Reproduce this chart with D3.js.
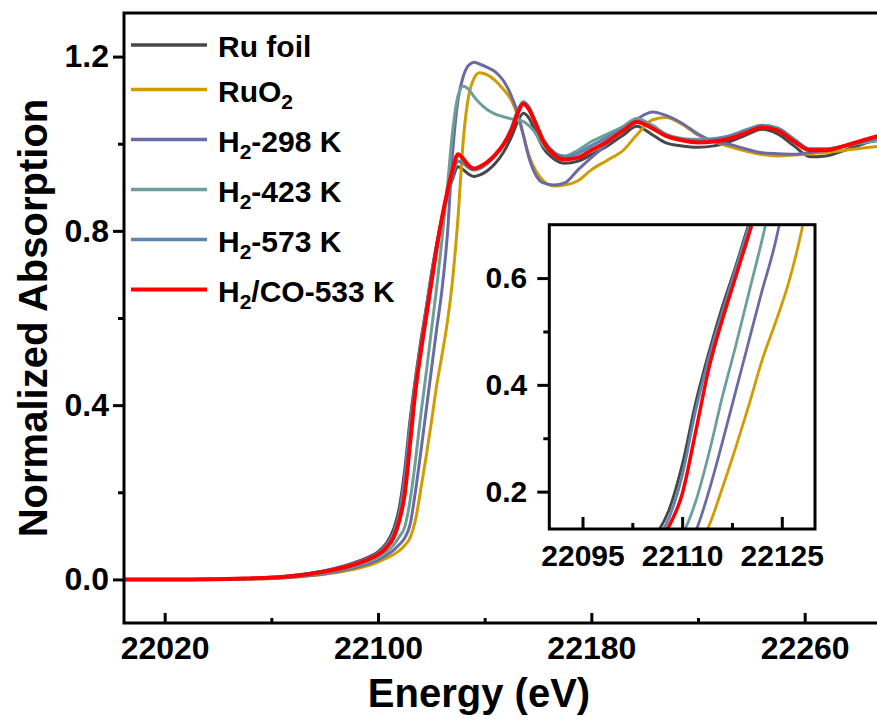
<!DOCTYPE html>
<html>
<head>
<meta charset="utf-8">
<script src="https://cdn.jsdelivr.net/npm/d3@7"></script>
<style>
  body { margin: 0; background: #fff; }
  text { font-family: "Liberation Sans", Arial, sans-serif; font-weight: bold; }
</style>
</head>
<body>
<div id="chart"></div>
<script>
// Energy grid (eV) and normalized absorption of each sample
var energy = [22005, 22030, 22050, 22065, 22080, 22090, 22096, 22100,
              22103, 22106, 22108, 22110, 22112, 22114, 22116, 22118,
              22120, 22122, 22124, 22126, 22128, 22130, 22132, 22134,
              22136, 22138, 22141, 22144, 22147, 22150, 22152.5, 22154.5, 22156.5,
              22159, 22162, 22166, 22170, 22175, 22180, 22186, 22192,
              22197, 22203, 22208, 22214, 22220, 22226, 22232, 22238,
              22244, 22250, 22256, 22262, 22268, 22275, 22282, 22290];

var ruFoil = [0, 0, 0.002, 0.007, 0.02, 0.036, 0.05, 0.063,
              0.082, 0.118, 0.165, 0.25, 0.365, 0.46, 0.545, 0.62,
              0.70, 0.77, 0.83, 0.88, 0.92, 0.947, 0.940, 0.930,
              0.925, 0.928, 0.938, 0.955, 0.980, 1.015, 1.052, 1.070, 1.060,
              1.028, 0.99, 0.965, 0.955, 0.96, 0.975, 0.995, 1.020,
              1.040, 1.020, 1.002, 0.995, 0.992, 0.995, 1.005, 1.020,
              1.033, 1.022, 0.995, 0.97, 0.972, 0.985, 1.0, 1.015];

var ruO2 = [0, 0, 0.001, 0.004, 0.012, 0.022, 0.031, 0.04,
            0.048, 0.058, 0.066, 0.078, 0.095, 0.135, 0.205, 0.28,
            0.36, 0.445, 0.515, 0.59, 0.69, 0.83, 1.01, 1.11,
            1.15, 1.163, 1.158, 1.145, 1.125, 1.10, 1.062, 1.02, 0.975,
            0.94, 0.915, 0.903, 0.905, 0.915, 0.94, 0.962, 0.985,
            1.02, 1.055, 1.06, 1.045, 1.02, 1.005, 0.993, 0.983,
            0.975, 0.972, 0.974, 0.977, 0.98, 0.985, 0.99, 0.996];

var h2_298 = [0, 0, 0.001, 0.004, 0.013, 0.025, 0.035, 0.045,
              0.055, 0.068, 0.08, 0.095, 0.125, 0.20, 0.29, 0.385,
              0.48, 0.575, 0.665, 0.79, 0.98, 1.10, 1.155, 1.18,
              1.187, 1.183, 1.175, 1.165, 1.145, 1.11, 1.068, 1.02, 0.97,
              0.93, 0.91, 0.905, 0.91, 0.94, 0.968, 1.0, 1.035,
              1.056, 1.073, 1.065, 1.047, 1.022, 1.005, 0.998, 0.988,
              0.979, 0.977, 0.976, 0.98, 0.986, 0.995, 1.003, 1.012];

var h2_423 = [0, 0, 0.001, 0.005, 0.015, 0.028, 0.04, 0.05,
              0.062, 0.08, 0.098, 0.12, 0.18, 0.27, 0.375, 0.47,
              0.57, 0.67, 0.78, 0.90, 1.03, 1.11, 1.132, 1.125,
              1.108, 1.094, 1.078, 1.068, 1.062, 1.057, 1.054, 1.051, 1.042,
              1.025, 0.995, 0.978, 0.972, 0.985, 1.005, 1.022, 1.04,
              1.058, 1.042, 1.022, 1.012, 1.01, 1.012, 1.018, 1.032,
              1.042, 1.035, 1.01, 0.988, 0.988, 0.995, 1.002, 1.008];

var h2_573 = [0, 0, 0.002, 0.006, 0.019, 0.034, 0.047, 0.06,
              0.077, 0.108, 0.15, 0.23, 0.35, 0.45, 0.535, 0.615,
              0.695, 0.765, 0.83, 0.885, 0.93, 0.96, 0.955, 0.945,
              0.94, 0.943, 0.955, 0.973, 0.998, 1.035, 1.077, 1.096, 1.085,
              1.05, 1.01, 0.98, 0.97, 0.978, 0.995, 1.015, 1.035,
              1.052, 1.035, 1.018, 1.01, 1.007, 1.01, 1.018, 1.03,
              1.042, 1.035, 1.01, 0.988, 0.988, 0.995, 1.005, 1.015];

var h2co_533 = [0, 0, 0.002, 0.006, 0.018, 0.032, 0.045, 0.057,
                0.072, 0.098, 0.135, 0.195, 0.31, 0.43, 0.52, 0.60,
                0.68, 0.76, 0.83, 0.89, 0.94, 0.976, 0.965, 0.95,
                0.943, 0.947, 0.958, 0.975, 0.998, 1.030, 1.072, 1.092, 1.080,
                1.048, 1.005, 0.975, 0.964, 0.968, 0.985, 1.005, 1.030,
                1.050, 1.035, 1.018, 1.008, 1.003, 1.005, 1.012, 1.025,
                1.037, 1.030, 1.005, 0.985, 0.985, 0.995, 1.008, 1.022];

// "_" marks a subscript character
var seriesNames = ["Ru foil", "RuO_2", "H_2-298 K", "H_2-423 K", "H_2-573 K", "H_2/CO-533 K"];
var seriesColors = ["#474747", "#d19c00", "#6c6aa4", "#6d9f9a", "#5b86b0", "#ff0000"];
var seriesValues = [ruFoil, ruO2, h2_298, h2_423, h2_573, h2co_533];

var mainXTicks = [22020, 22100, 22180, 22260];
var mainXMinor = [22060, 22140, 22220];
var mainYTicks = [0, 0.4, 0.8, 1.2];
var mainYMinor = [0.2, 0.6, 1.0];
var insetXTicks = [22095, 22110, 22125];
var insetXMinor = [22102.5, 22117.5];
var insetYTicks = [0.2, 0.4, 0.6];
var insetYMinor = [0.3, 0.5];


var styleAxis = function(size) {
  return function(g) {
    g.select(".domain").remove();
    g.selectAll("line").attr("stroke", "#000").attr("stroke-width", 3);
    g.selectAll("text")
      .attr("font-size", size)
      .attr("fill", "#000");
  };
};

var addLabel = function(sel, label) {
  var parts = label.split("_");
  sel.append("tspan").text(parts[0]);
  if (parts.length > 1) {
    sel.append("tspan").attr("font-size", 21).attr("dy", 7).text(parts[1].charAt(0));
    sel.append("tspan").attr("dy", -7).text(parts[1].slice(1));
  }
};

var visualize = function() {
  var width = 877, height = 720;

  var svg = d3.select("#chart")
    .append("svg")
    .attr("width", width)
    .attr("height", height);

  var x = d3.scaleLinear().domain([22004.75, 22288.25]).range([124, 880]);
  var y = d3.scaleLinear().domain([-0.1, 1.3]).range([623, 13]);

  svg.append("clipPath").attr("id", "clipMain")
    .append("rect").attr("x", 124).attr("y", 13).attr("width", 756).attr("height", 610);

  // main curves
  var line = d3.line()
    .x(function(d, i) { return x(energy[i]); })
    .y(function(d) { return y(d); })
    .curve(d3.curveMonotoneX);

  svg.append("g").attr("clip-path", "url(#clipMain)")
    .selectAll("path")
    .data(seriesValues)
    .enter()
    .append("path")
    .attr("d", line)
    .attr("fill", "none")
    .attr("stroke", function(d, i) { return seriesColors[i]; })
    .attr("stroke-width", function(d, i) { return i === 5 ? 4 : (i === 4 ? 3.5 : 3); })
    .attr("stroke-linejoin", "round");

  // axes
  svg.append("g").attr("transform", "translate(124,0)")
    .call(d3.axisLeft(y).tickValues(mainYTicks).tickFormat(d3.format(".1f")).tickSize(11).tickPadding(4))
    .call(styleAxis(32));
  svg.append("g").attr("transform", "translate(124,0)")
    .call(d3.axisLeft(y).tickValues(mainYMinor).tickFormat("").tickSize(6))
    .call(styleAxis(32));
  svg.append("g").attr("transform", "translate(0,623)")
    .call(d3.axisBottom(x).tickValues(mainXTicks).tickFormat(d3.format("d")).tickSizeInner(-10).tickSizeOuter(0).tickPadding(13))
    .call(styleAxis(32));
  svg.append("g").attr("transform", "translate(0,623)")
    .call(d3.axisBottom(x).tickValues(mainXMinor).tickFormat("").tickSizeInner(-5).tickSizeOuter(0))
    .call(styleAxis(32));

  svg.append("rect")
    .attr("x", 124).attr("y", 13).attr("width", 760).attr("height", 610)
    .attr("fill", "none").attr("stroke", "#000").attr("stroke-width", 3);

  // legend
  var legendY = function(i) { return i === 0 ? 45 : 89.5 + (i - 1) * 50; };
  var legend = svg.append("g");
  seriesNames.forEach(function(name, i) {
    legend.append("line")
      .attr("x1", 131).attr("x2", 207)
      .attr("y1", legendY(i)).attr("y2", legendY(i))
      .attr("stroke", seriesColors[i])
      .attr("stroke-width", i === 5 ? 4 : 3.5);
    var t = legend.append("text")
      .attr("x", 218).attr("y", legendY(i) + 12)
      .attr("font-size", 30);
    addLabel(t, name);
  });

  // axis titles
  svg.append("text")
    .attr("transform", "translate(47,318) rotate(-90)")
    .attr("text-anchor", "middle")
    .attr("font-size", 40)
    .text("Normalized Absorption");
  svg.append("text")
    .attr("x", 479).attr("y", 707)
    .attr("text-anchor", "middle")
    .attr("font-size", 40)
    .text("Energy (eV)");

  // inset
  var ix = d3.scaleLinear().domain([22090, 22130]).range([549.3, 815]);
  var iy = d3.scaleLinear().domain([0.13, 0.7]).range([529, 224.7]);

  svg.append("rect")
    .attr("x", 549.3).attr("y", 224.7).attr("width", 265.7).attr("height", 304.3)
    .attr("fill", "#fff");

  svg.append("clipPath").attr("id", "clipInset")
    .append("rect").attr("x", 549.3).attr("y", 224.7).attr("width", 265.7).attr("height", 304.3);

  var insetLine = d3.line()
    .x(function(d, i) { return ix(energy[i]); })
    .y(function(d) { return iy(d); })
    .curve(d3.curveMonotoneX);

  svg.append("g").attr("clip-path", "url(#clipInset)")
    .selectAll("path")
    .data(seriesValues)
    .enter()
    .append("path")
    .attr("d", insetLine)
    .attr("fill", "none")
    .attr("stroke", function(d, i) { return seriesColors[i]; })
    .attr("stroke-width", function(d, i) { return i === 5 ? 3.5 : 2.8; });

  svg.append("g").attr("transform", "translate(549.3,0)")
    .call(d3.axisLeft(iy).tickValues(insetYTicks).tickFormat(d3.format(".1f")).tickSize(12).tickPadding(10))
    .call(styleAxis(30));
  svg.append("g").attr("transform", "translate(549.3,0)")
    .call(d3.axisLeft(iy).tickValues(insetYMinor).tickFormat("").tickSize(6))
    .call(styleAxis(30));
  svg.append("g").attr("transform", "translate(0,529)")
    .call(d3.axisBottom(ix).tickValues(insetXTicks).tickFormat(d3.format("d")).tickSizeInner(-12).tickSizeOuter(0).tickPadding(16))
    .call(styleAxis(30));
  svg.append("g").attr("transform", "translate(0,529)")
    .call(d3.axisBottom(ix).tickValues(insetXMinor).tickFormat("").tickSizeInner(-6).tickSizeOuter(0))
    .call(styleAxis(30));

  svg.append("rect")
    .attr("x", 549.3).attr("y", 224.7).attr("width", 265.7).attr("height", 304.3)
    .attr("fill", "none").attr("stroke", "#000").attr("stroke-width", 3);
};

visualize();
</script>
</body>
</html>
